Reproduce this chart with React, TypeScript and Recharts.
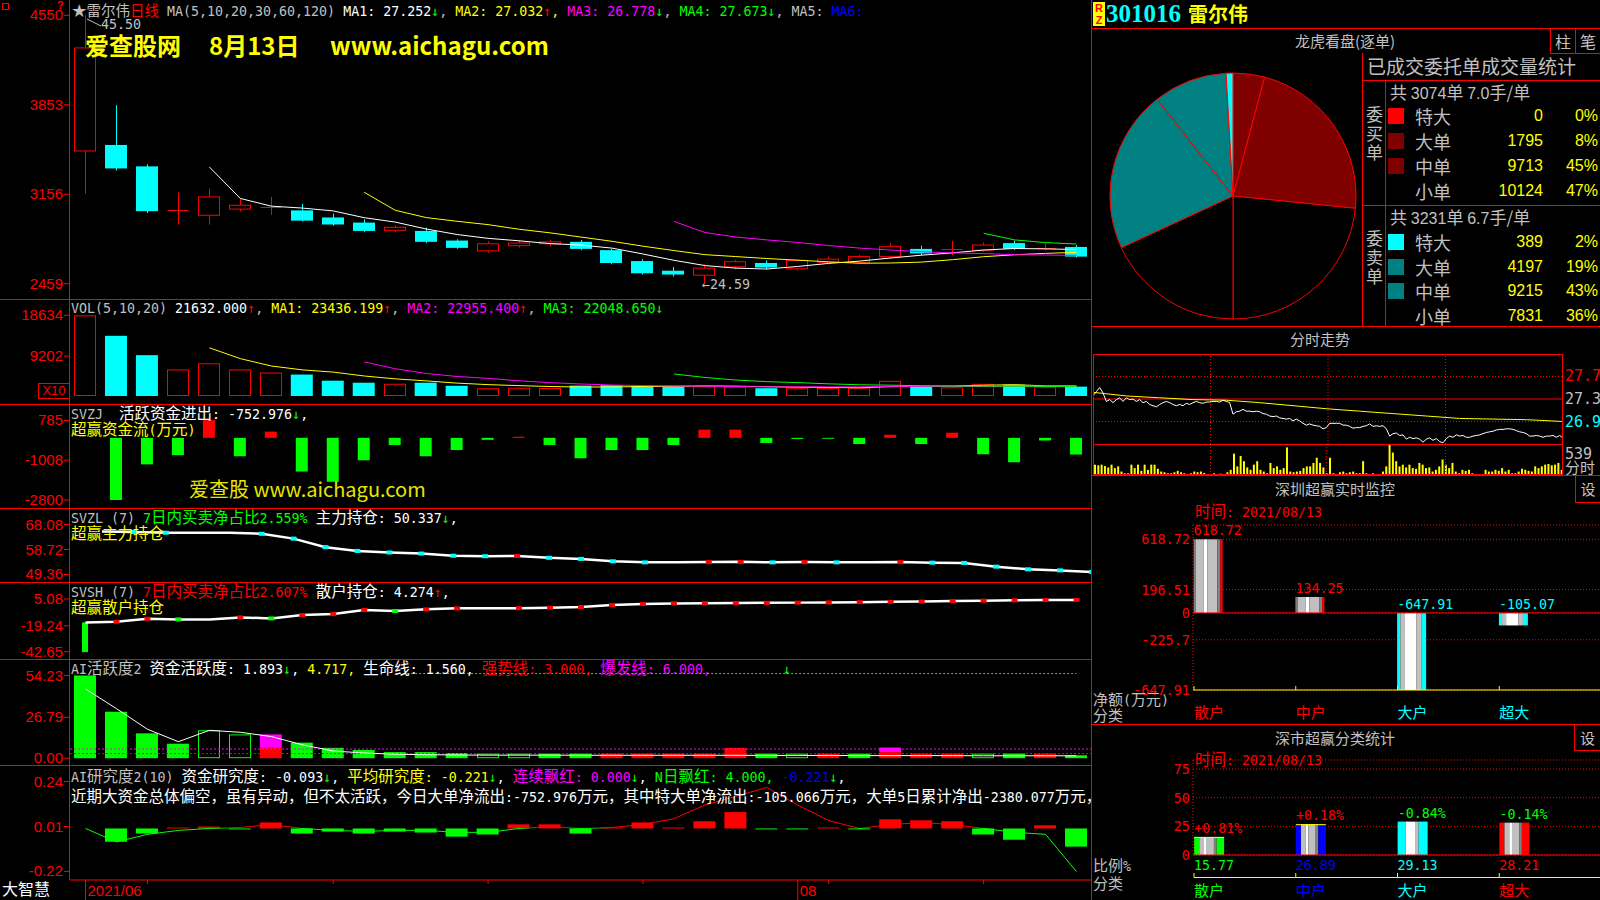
import React from 'react';
import { ComposedChart, BarChart, LineChart, PieChart, Pie, Cell, Bar, Line, XAxis, YAxis, ReferenceLine, CartesianGrid, LabelList } from 'recharts';

const _ = null;
const MONO = '"DejaVu Sans Mono", "Liberation Mono", monospace';
const CJK = '"Noto Sans CJK SC", "Noto Sans", sans-serif';
const NUM = '"Liberation Sans", Arial, sans-serif';
const RED = '#ff0000', CYAN = '#00ffff', GREEN = '#00ff00', YEL = '#ffff00', MAG = '#ff00ff', GRAY = '#c0c0c0', WHITE = '#ffffff', BLUE = '#0000ff';

// ---------------- daily data ----------------
const tradeDates = ['2021-06-30','2021-07-01','2021-07-02','2021-07-05','2021-07-06','2021-07-07','2021-07-08','2021-07-09','2021-07-12','2021-07-13','2021-07-14','2021-07-15','2021-07-16','2021-07-19','2021-07-20','2021-07-21','2021-07-22','2021-07-23','2021-07-26','2021-07-27','2021-07-28','2021-07-29','2021-07-30','2021-08-02','2021-08-03','2021-08-04','2021-08-05','2021-08-06','2021-08-09','2021-08-10','2021-08-11','2021-08-12','2021-08-13'];
const opens = [34.93,35.40,33.73,30.30,29.92,30.40,30.45,30.30,29.75,29.35,28.75,28.70,27.95,27.15,27.55,27.70,27.85,27.20,26.35,25.60,25.25,25.90,26.20,25.75,26.25,26.25,26.70,27.30,27.30,27.20,27.75,27.30,27.45];
const highs = [45.50,38.50,33.90,31.70,32.00,31.20,31.35,30.80,30.05,29.60,29.15,28.95,28.05,27.90,27.95,28.00,28.00,27.30,26.50,25.90,26.10,26.45,26.40,26.50,26.70,26.85,27.77,27.55,27.93,27.80,27.95,27.75,27.60];
const lows = [31.60,33.40,30.10,29.20,29.20,30.20,29.95,29.44,29.10,28.60,28.60,27.75,27.30,27.00,27.40,27.50,27.20,26.10,25.30,25.15,24.59,25.70,25.70,25.60,26.10,26.10,26.55,26.80,26.82,27.05,27.20,27.15,26.63];
const closes = [42.96,33.57,30.24,30.30,31.35,30.70,30.55,29.50,29.20,28.70,28.98,27.85,27.38,27.70,27.75,27.85,27.30,26.20,25.40,25.30,25.80,26.30,25.85,26.40,26.50,26.70,27.50,26.95,27.32,27.60,27.30,27.35,26.70];
const ma5 = [_,_,_,_,33.68,31.23,30.63,30.48,30.26,29.73,29.39,28.85,28.42,28.12,27.93,27.71,27.60,27.36,26.90,26.41,26.00,25.80,25.73,25.93,26.17,26.35,26.59,26.81,26.99,27.21,27.33,27.30,27.25];
const ma10 = [_,_,_,_,_,_,_,_,_,31.71,30.31,29.74,29.45,29.19,28.83,28.55,28.22,27.89,27.51,27.17,26.85,26.70,26.55,26.42,26.29,26.18,26.20,26.27,26.46,26.69,26.84,26.95,27.03];
const ma20 = [_,_,_,_,_,_,_,_,_,_,_,_,_,_,_,_,_,_,_,29.44,28.58,28.22,28.00,27.80,27.56,27.36,27.21,27.08,26.99,26.93,26.85,26.82,26.79];
const ma30 = [_,_,_,_,_,_,_,_,_,_,_,_,_,_,_,_,_,_,_,_,_,_,_,_,_,_,_,_,_,28.52,28.00,27.79,27.68];
const vols = [18634,13900,9430,6130,7550,6130,5420,4950,3540,3070,2830,3070,2360,1800,1900,1850,2400,2500,2300,2200,2250,2142,1800,1800,1850,1900,3500,2187,2000,2800,2600,2155,2163];
const vma5 = [_,_,_,_,11129,8628,6932,6036,5518,4622,3962,3492,2974,2626,2392,2196,2062,2090,2190,2250,2330,2278,2138,2038,1968,1898,2170,2247,2287,2477,2617,2348,2344];
const vma10 = [_,_,_,_,_,_,_,_,_,7875,6295,5212,4505,4072,3507,3079,2777,2532,2408,2321,2263,2170,2114,2114,2109,2114,2224,2193,2163,2223,2258,2259,2296];
const vma20 = [_,_,_,_,_,_,_,_,_,_,_,_,_,_,_,_,_,_,_,5098,4279,3691,3310,3093,2808,2597,2501,2362,2285,2272,2260,2215,2205];
const svzj = [_,-2800,-1196,-780,800,-830,280,-1520,-1980,-1010,-320,-830,-550,-90,50,-320,-920,-550,-550,-320,370,370,-230,-50,-40,-280,140,-280,230,-740,-1100,-120,-752.976];
const svzl = [_,65.5,65.3,65.0,65.0,65.0,64.6,62.8,59.6,58.2,57.6,57.2,56.4,56.2,56.3,55.6,55.2,54.3,53.9,53.9,54.0,54.1,53.9,54.0,53.9,53.9,54.0,53.8,53.7,52.3,51.3,50.9,50.337];
const svsh = [-16.1,-15.5,-12.8,-13.4,-13.4,-11.6,-12.5,-9.5,-8.6,-4.9,-5.8,-4.3,-3.4,-3.4,-3.2,-2.8,-2.2,-0.4,0.5,1.1,1.3,1.5,1.6,1.8,2.0,2.2,2.5,2.8,3.2,3.6,3.9,4.1,4.274];
const svshBarLow = [-43.0,_,_,_,_,_,_,_,_,_,_,_,_,_,_,_,_,_,_,_,_,_,_,_,_,_,_,_,_,_,_,_,_];
const svshBarHigh = [-16.1,_,_,_,_,_,_,_,_,_,_,_,_,_,_,_,_,_,_,_,_,_,_,_,_,_,_,_,_,_,_,_,_];
const actGreen = [54.23,30.5,16.3,9.5,_,_,_,10.2,6.8,5.4,4.0,4.0,3.4,_,_,3.0,3.0,_,_,_,_,_,3.0,_,_,3.0,_,_,_,_,3.0,_,1.893];
const actHollow = [_,_,_,_,18.3,15.6,_,_,_,_,_,_,_,3.0,3.0,_,_,_,_,_,_,_,_,3.0,_,_,_,_,_,3.0,_,_,_];
const actRed = [_,_,_,_,_,_,6.8,_,_,_,_,_,_,_,_,_,_,3.0,3.0,3.0,3.0,6.8,_,_,3.0,_,4.0,3.0,3.0,_,_,3.0,_];
const actMag = [_,_,_,_,_,_,8.8,_,_,_,_,_,_,_,_,_,_,_,_,_,_,_,_,_,_,_,3.0,_,_,_,_,_,_];
const actLife = [45.4,32.5,19.0,10.8,18.3,17.0,14.2,8.8,4.7,3.4,2.6,2.3,2.1,2.0,2.0,2.0,1.9,1.9,1.9,1.9,1.9,1.9,1.8,1.8,1.8,1.7,1.7,1.7,1.7,1.6,1.6,1.6,1.56];
const resBar = [_,-0.068,-0.026,0.005,0.010,-0.005,0.031,-0.026,-0.016,-0.026,-0.016,-0.021,-0.042,-0.031,0.021,0.021,-0.026,0.005,0.031,0.005,0.037,0.084,-0.005,-0.005,0.005,-0.005,0.047,0.042,0.037,-0.031,-0.058,0.016,-0.093];
const resAvg = [0.0,-0.069,-0.03,-0.01,0.0,0.005,0.02,0.0,-0.01,-0.015,-0.01,-0.01,-0.02,-0.02,0.0,0.01,0.0,0.005,0.02,0.05,0.12,0.165,0.21,0.12,0.04,0.0,0.02,0.03,0.02,0.0,-0.02,-0.03,-0.221];
const axisTickDates = ['2021-06-30','2021-07-02','2021-07-12','2021-07-19','2021-07-26','2021-08-02','2021-08-03','2021-08-10'];
const axisMajor: Record<string, string> = { '2021-06-30': '2021/06', '2021-08-02': '08' };

// ---------------- right side data ----------------
const orderLabels = ['特大', '大单', '中单', '小单'];
const buyCounts = [0, 1795, 9713, 10124];
const buyPct = ['0%', '8%', '45%', '47%'];
const sellCounts = [389, 4197, 9215, 7831];
const sellPct = ['2%', '19%', '43%', '36%'];
const minutePrice = [27.40,27.47,27.54,27.45,27.31,27.34,27.29,27.34,27.37,27.31,
27.37,27.34,27.35,27.31,27.34,27.29,27.31,27.26,27.24,27.22,
27.26,27.29,27.31,27.29,27.26,27.24,27.26,27.24,27.28,27.26,
27.29,27.31,27.29,27.28,27.30,27.30,27.31,27.31,27.30,27.33,
27.31,27.29,27.10,27.14,27.15,27.18,27.15,27.15,27.14,27.15,
27.14,27.11,27.10,27.07,27.06,27.07,27.04,27.03,27.02,27.03,
26.99,27.02,26.99,26.95,26.92,26.94,26.92,26.91,26.90,26.86,
26.88,26.95,26.95,26.95,26.95,26.92,26.92,26.90,26.87,26.88,
26.88,26.90,26.91,26.94,26.90,26.91,26.90,26.91,26.86,26.74,
26.78,26.79,26.75,26.76,26.69,26.72,26.70,26.71,26.69,26.64,
26.69,26.71,26.67,26.70,26.65,26.63,26.70,26.74,26.72,26.76,
26.74,26.75,26.72,26.72,26.74,26.75,26.76,26.78,26.80,26.81,
26.82,26.84,26.85,26.85,26.86,26.86,26.85,26.83,26.81,26.80,
26.78,26.74,26.74,26.75,26.74,26.72,26.74,26.74,26.75,26.72,
26.75,26.71];
const minuteVol = [180,168,180,156,132,180,120,150,60,30,
30,180,120,180,72,180,90,180,180,108,
60,48,30,30,48,72,48,30,18,30,
60,48,60,36,18,18,30,18,24,18,
48,90,372,150,330,240,132,90,180,240,
90,60,30,210,120,150,90,120,480,60,
48,60,72,120,150,150,210,300,210,132,
30,300,30,18,48,60,30,48,60,30,
30,240,30,18,30,18,18,60,150,539,
390,240,150,180,132,180,120,108,210,180,
120,132,60,90,150,270,180,120,210,60,
30,90,72,90,30,18,18,12,90,60,
60,90,72,120,60,90,30,30,60,108,
90,72,60,150,120,150,180,192,168,180,
210,90];
const avgT = [0, 10, 20, 30, 40, 50, 60, 70, 80, 90, 100, 110, 120, 130, 141];
const avgV = [27.46, 27.40, 27.37, 27.34, 27.33, 27.29, 27.24, 27.19, 27.15, 27.11, 27.07, 27.03, 27.02, 27.01, 26.98];
const monitorCats = ['散户', '中户', '大户', '超大'];
const monitorNet = [618.72, 134.25, -647.91, -105.07];
const shareRatio = [15.77, 26.89, 29.13, 28.21];
const shareChange = [0.81, 0.18, -0.84, -0.14];

// tables the library needs
const rows = tradeDates.map((d, i) => ({
  d, open: opens[i], high: highs[i], low: lows[i], close: closes[i],
  ma5: ma5[i], ma10: ma10[i], ma20: ma20[i], ma30: ma30[i],
  vol: vols[i], vma5: vma5[i], vma10: vma10[i], vma20: vma20[i],
  zj: svzj[i], zl: svzl[i], sh: svsh[i], shLo: svshBarLow[i], shHi: svshBarHigh[i],
  ag: actGreen[i], ah: actHollow[i], ar: actRed[i], am: actMag[i], life: actLife[i],
  rb: resBar[i], ra: resAvg[i],
}));
const minuteRows = minutePrice.map((p, t) => ({ t, p }));
const avgRows = avgT.map((t, i) => ({ t, v: avgV[i] }));
const volRows = minuteVol.map((v, t) => ({ t, v }));
const pieRows = [
  ...orderLabels.map((n, i) => ({ name: '买' + n, value: buyCounts[i] })),
  ...orderLabels.map((n, i) => ({ name: '卖' + n, value: sellCounts[i] })).reverse(),
];
const PIE_COLORS = ['#ff0000', '#800000', '#800000', '#000000', '#000000', '#008080', '#008080', '#00ffff'];
const BUY_SW = ['#ff0000', '#800000', '#800000', null];
const SELL_SW = ['#00ffff', '#008080', '#008080', null];
const monitorRows = monitorCats.map((name, i) => ({ name, v: monitorNet[i] }));
const shareRows = monitorCats.map((name, i) => ({ name, v: shareRatio[i], ch: shareChange[i] }));
const SHARE_COLORS = [GREEN, BLUE, CYAN, RED];

// ---------------- helpers ----------------
const isHalf = (s: string) => /^[\x00-\x7f↑↓←]/.test(s);
function Mx({ t, c, a = 13.3, k = 15.5, w }: any) {
  const parts = t.match(/[\x00-\x7f↑↓←]+|[^\x00-\x7f↑↓←]+/g) || [];
  return (
    <>
      {parts.map((p: string, i: number) => (
        <span key={i} style={{ color: c, fontFamily: isHalf(p) ? MONO : CJK, fontSize: isHalf(p) ? a : k, fontWeight: w }}>{p}</span>
      ))}
    </>
  );
}
function Row({ x, y, children, h = 16, style }: any) {
  return <div style={{ position: 'absolute', left: x, top: y, height: h, lineHeight: h + 'px', whiteSpace: 'pre', ...style }}>{children}</div>;
}
function HLine({ x1, x2, y, c = RED, dash }: any) {
  return <div style={{ position: 'absolute', left: x1, top: y, width: x2 - x1, height: 0, borderTop: `1px ${dash ? 'dotted' : 'solid'} ${c}` }} />;
}
function VLine({ x, y1, y2, c = RED }: any) {
  return <div style={{ position: 'absolute', left: x, top: y1, width: 0, height: y2 - y1, borderLeft: `1px solid ${c}` }} />;
}

function AxisTick(props: any) {
  const { y, payload, fmt } = props;
  return (
    <g>
      <text x={63} y={y} dy={5} textAnchor="end" fill={RED} fontSize={15} fontFamily={NUM}>{fmt(payload.value)}</text>
      <line x1={64} x2={69} y1={y} y2={y} stroke={RED} />
    </g>
  );
}

function Candle(p: any) {
  const { x, y, width, height, payload } = p;
  if (!payload || payload.high == null) return <g />;
  const { open, close, high, low } = payload;
  const top = Math.min(y, y + height);
  const h = Math.abs(height);
  const py = (v: number) => top + ((high - v) / (high - low)) * h;
  const up = close >= open;
  const col = up ? RED : CYAN;
  const cx = Math.round(x + width / 2) + 0.5;
  const bt = py(Math.max(open, close));
  const bb = py(Math.min(open, close));
  const bx = Math.round(x) + 0.5;
  const bw = Math.round(width) - 1;
  if (bb - bt < 1.5) {
    return (
      <g>
        <line x1={cx} x2={cx} y1={top} y2={top + h} stroke={col} />
        <line x1={bx} x2={bx + bw} y1={Math.round(bt) + 0.5} y2={Math.round(bt) + 0.5} stroke={col} />
      </g>
    );
  }
  if (up) {
    return (
      <g>
        <line x1={cx} x2={cx} y1={top} y2={bt} stroke={col} />
        <line x1={cx} x2={cx} y1={bb} y2={top + h} stroke={col} />
        <rect x={bx} y={bt} width={bw} height={bb - bt} fill="#000" stroke={col} />
      </g>
    );
  }
  return (
    <g>
      <line x1={cx} x2={cx} y1={top} y2={top + h} stroke={col} />
      <rect x={bx - 0.5} y={bt} width={bw + 1} height={bb - bt} fill={col} />
    </g>
  );
}

function VolBar(p: any) {
  const { x, y, width, height, payload } = p;
  const top = Math.min(y, y + height);
  const h = Math.abs(height);
  const up = payload.close >= payload.open;
  if (up) return <rect x={Math.round(x) + 0.5} y={top + 0.5} width={Math.round(width) - 1} height={Math.max(h - 1, 0)} fill="#000" stroke={RED} />;
  return <rect x={x} y={top} width={width} height={h} fill={CYAN} />;
}

function HollowBar(p: any) {
  const { x, y, width, height } = p;
  if (!height) return <g />;
  const top = Math.min(y, y + height);
  const h = Math.abs(height);
  return <rect x={Math.round(x) + 0.5} y={top + 0.5} width={Math.round(width) - 1} height={Math.max(h - 1, 0)} fill="#000" stroke={GREEN} />;
}

function markDot(arr: number[], upC: string, downC: string) {
  return (p: any) => {
    const { cx, cy, index } = p;
    const prev = index > 0 ? arr[index - 1] : null;
    const cur = arr[index];
    if (cx == null || cy == null || cur == null || prev == null || cur === prev) return <g key={'m' + index} />;
    return <rect key={'m' + index} x={cx - 3} y={cy - 2} width={6} height={4} fill={cur > prev ? upC : downC} />;
  };
}

function LeftPanel({ top, height, domain, ticks, fmt, bottom = 2, children, xAxis }: any) {
  return (
    <div style={{ position: 'absolute', left: 0, top, width: 1092, height }}>
      <ComposedChart width={1092} height={height} data={rows} margin={{ top: 2, right: 0, bottom, left: 0 }} barCategoryGap={0} barGap={0}>
        {xAxis || <XAxis dataKey="d" hide />}
        <YAxis type="number" width={70} domain={domain} ticks={ticks} interval={0} allowDataOverflow axisLine={false} tickLine={false}
          tick={(p: any) => <AxisTick {...p} fmt={fmt} />} />
        {children}
      </ComposedChart>
    </div>
  );
}

function DateTick(p: any) {
  const { x, payload } = p;
  const label = axisMajor[payload.value];
  if (label) {
    return (
      <g>
        <line x1={x} x2={x} y1={115} y2={135} stroke={RED} />
        <text x={x + 2} y={131} fill={RED} fontSize={15} fontFamily={NUM}>{label}</text>
      </g>
    );
  }
  return <line x1={x} x2={x} y1={115} y2={119} stroke={RED} />;
}

// right-side bar shapes
const MON_BAND = 407 / 4;
function StripeBar({ x, w, top, h, edge, pattern }: any) {
  return (
    <g>
      {pattern.map(([a, b, c]: any, i: number) => (
        <rect key={i} x={x + a * w} y={top} width={(b - a) * w} height={h} fill={c === 'E' ? edge : c} />
      ))}
    </g>
  );
}
const POS_PATTERN = [[0, 0.08, '#808080'], [0.08, 0.35, '#c0c0c0'], [0.35, 0.48, '#ffffff'], [0.48, 0.82, '#c0c0c0'], [0.82, 0.92, '#808080'], [0.92, 1, 'E']];
const NEG_PATTERN = [[0, 0.11, 'E'], [0.11, 0.25, '#c0c0c0'], [0.25, 0.67, '#ffffff'], [0.67, 0.83, '#c0c0c0'], [0.83, 1, 'E']];
const SHARE_PATTERN = [[0, 0.17, 'E'], [0.17, 0.33, '#c0c0c0'], [0.33, 0.42, '#ffffff'], [0.42, 0.66, '#c0c0c0'], [0.66, 0.75, '#808080'], [0.75, 1, 'E']];
const SHARE_PATTERN_C = [[0, 0.27, 'E'], [0.27, 0.58, '#ffffff'], [0.58, 0.7, '#c0c0c0'], [0.7, 1, 'E']];

function MonitorBar(p: any) {
  const { x, y, width, height, payload } = p;
  const top = Math.min(y, y + height);
  const h = Math.abs(height);
  const bx = x - (MON_BAND - width) / 2 + 1;
  const pos = payload.v >= 0;
  return <StripeBar x={bx} w={width} top={top} h={h} edge={pos ? RED : CYAN} pattern={pos ? POS_PATTERN : NEG_PATTERN} />;
}
function MonitorLabel(p: any) {
  const { x, y, width, height, value } = p;
  const top = Math.min(y, y + height);
  const bx = x - (MON_BAND - width) / 2 + 1;
  return <text x={bx} y={top - 4} fill={value >= 0 ? RED : CYAN} fontSize={13.3} fontFamily={MONO}>{value.toFixed(2)}</text>;
}
function MonitorXTick(p: any) {
  const { x, payload, index } = p;
  const bx = x - MON_BAND / 2 + 1;
  const col = monitorNet[index] >= 0 ? RED : CYAN;
  return (
    <g>
      <line x1={bx} x2={bx} y1={206} y2={210} stroke={YEL} />
      <text x={bx} y={238} fill={col} fontSize={15} fontFamily={CJK}>{payload.value}</text>
    </g>
  );
}
function RightYTick(p: any) {
  const { y, payload } = p;
  const v = payload.value;
  const s = v === 0 ? '0' : String(v);
  return <text x={98} y={y} dy={5} textAnchor="end" fill={RED} fontSize={13.5} fontFamily={MONO}>{s}</text>;
}
function ShareBar(p: any) {
  const { x, y, width, height, index } = p;
  const top = Math.min(y, y + height);
  const h = Math.abs(height);
  const bx = x - (MON_BAND - width) / 2 + 1;
  const col = SHARE_COLORS[index];
  return (
    <g>
      <StripeBar x={bx} w={width} top={top} h={h} edge={col} pattern={col === CYAN ? SHARE_PATTERN_C : SHARE_PATTERN} />
      {shareChange[index] > 0 ? <line x1={bx} x2={bx + width} y1={top + 0.5} y2={top + 0.5} stroke={YEL} /> : null}
    </g>
  );
}
function ShareLabel(p: any) {
  const { x, y, width, height, index } = p;
  const top = Math.min(y, y + height);
  const bx = x - (MON_BAND - width) / 2 + 1;
  const ch = shareChange[index];
  return <text x={bx} y={top - 4} fill={ch >= 0 ? RED : GREEN} fontSize={13.3} fontFamily={MONO}>{(ch >= 0 ? '+' : '') + ch.toFixed(2) + '%'}</text>;
}
function ShareXTick(p: any) {
  const { x, payload, index } = p;
  const bx = x - MON_BAND / 2 + 1;
  const col = SHARE_COLORS[index];
  return (
    <g>
      <text x={bx} y={146} fill={col} fontSize={13.3} fontFamily={MONO}>{shareRatio[index].toFixed(2)}</text>
      <line x1={bx} x2={bx + MON_BAND} y1={153.5} y2={153.5} stroke={YEL} />
      <line x1={bx} x2={bx} y1={149} y2={153.5} stroke={YEL} />
      <text x={bx} y={172} fill={col} fontSize={15} fontFamily={CJK}>{payload.value}</text>
    </g>
  );
}

const R0 = 1092;

export default function App() {
  const dims = { position: 'fixed' as const, left: 0, top: 0, width: 1600, height: 900, background: '#000', overflow: 'hidden' };
  return (
    <div style={dims}>
      <svg width={0} height={0} style={{ position: 'absolute' }}>
        <defs>
          <linearGradient id="resGrad" gradientUnits="userSpaceOnUse" x1={0} y1={0} x2={0} y2={135}>
            <stop offset={0.47} stopColor={RED} />
            <stop offset={0.47} stopColor={GREEN} />
          </linearGradient>
        </defs>
      </svg>

      {/* ---------- left charts ---------- */}
      <LeftPanel top={0} height={299} domain={[23.55, 46.54]} ticks={[24.59, 31.56, 38.53, 45.5]} fmt={(v: number) => String(Math.round(v * 100))}>
        <Bar dataKey={(r: any) => [r.low, r.high]} barSize={22} shape={(p: any) => <Candle {...p} />} isAnimationActive={false} />
        <Line dataKey="ma5" stroke={WHITE} dot={false} activeDot={false} isAnimationActive={false} />
        <Line dataKey="ma10" stroke={YEL} dot={false} activeDot={false} isAnimationActive={false} />
        <Line dataKey="ma20" stroke={MAG} dot={false} activeDot={false} isAnimationActive={false} />
        <Line dataKey="ma30" stroke={GREEN} dot={false} activeDot={false} isAnimationActive={false} />
      </LeftPanel>

      <LeftPanel top={299} height={105} bottom={8} domain={[0, 21940]} ticks={[9202, 18634]} fmt={(v: number) => String(v)}>
        <Bar dataKey="vol" barSize={22} shape={(p: any) => <VolBar {...p} />} isAnimationActive={false} />
        <Line dataKey="vma5" stroke={YEL} dot={false} activeDot={false} isAnimationActive={false} />
        <Line dataKey="vma10" stroke={MAG} dot={false} activeDot={false} isAnimationActive={false} />
        <Line dataKey="vma20" stroke={GREEN} dot={false} activeDot={false} isAnimationActive={false} />
      </LeftPanel>

      <LeftPanel top={404} height={104} domain={[-3070, 1434]} ticks={[-2800, -1008, 785]} fmt={(v: number) => String(v)}>
        <Bar dataKey="zj" barSize={12} isAnimationActive={false}>
          {svzj.map((v, i) => <Cell key={i} fill={(v ?? 0) >= 0 ? RED : GREEN} />)}
        </Bar>
      </LeftPanel>

      <LeftPanel top={508} height={74} domain={[47.3, 73.51]} ticks={[49.36, 58.72, 68.08]} fmt={(v: number) => v.toFixed(2)}>
        <Line dataKey="zl" stroke={WHITE} strokeWidth={2.5} dot={markDot(svzl as any, RED, CYAN)} activeDot={false} isAnimationActive={false} />
      </LeftPanel>

      <LeftPanel top={582} height={77} domain={[-47.45, 18.67]} ticks={[-42.65, -19.24, 5.08]} fmt={(v: number) => v.toFixed(2)}>
        <Bar dataKey={(r: any) => (r.shLo == null ? null : [r.shLo, r.shHi])} barSize={6} fill={GREEN} isAnimationActive={false} />
        <Line dataKey="sh" stroke={WHITE} strokeWidth={2.5} dot={markDot(svsh, RED, GREEN)} activeDot={false} isAnimationActive={false} />
      </LeftPanel>

      <LeftPanel top={659} height={106} domain={[-3.15, 63.74]} ticks={[0, 26.79, 54.23]} fmt={(v: number) => v.toFixed(2)}>
        <ReferenceLine y={3} stroke={RED} strokeDasharray="2 2" />
        <ReferenceLine y={6} stroke={MAG} strokeDasharray="2 2" />
        <ReferenceLine segment={[{ x: '2021-07-14', y: 55.5 }, { x: '2021-08-13', y: 55.5 }]} stroke={GREEN} strokeDasharray="2 2" />
        <Bar dataKey="ag" stackId="a" barSize={22} fill={GREEN} isAnimationActive={false} />
        <Bar dataKey="ah" stackId="a" barSize={22} shape={(p: any) => <HollowBar {...p} />} isAnimationActive={false} />
        <Bar dataKey="ar" stackId="a" barSize={22} fill={RED} isAnimationActive={false} />
        <Bar dataKey="am" stackId="a" barSize={22} fill={MAG} isAnimationActive={false} />
        <Line dataKey="life" stroke={WHITE} dot={false} activeDot={false} isAnimationActive={false} />
      </LeftPanel>

      <LeftPanel top={765} height={135} bottom={0} domain={[-0.264, 0.3148]} ticks={[-0.22, 0.01, 0.24]} fmt={(v: number) => v.toFixed(2)}
        xAxis={<XAxis dataKey="d" ticks={axisTickDates} interval={0} height={20} axisLine={{ stroke: RED }} tickLine={false} tick={(p: any) => <DateTick {...p} />} />}>
        <Bar dataKey="rb" barSize={22} isAnimationActive={false}>
          {resBar.map((v, i) => <Cell key={i} fill={(v ?? 0) >= 0 ? RED : GREEN} />)}
        </Bar>
        <Line dataKey="ra" stroke="url(#resGrad)" dot={false} activeDot={false} isAnimationActive={false} />
      </LeftPanel>

      {/* ---------- left frame lines ---------- */}
      <VLine x={69} y1={0} y2={880} />
      <VLine x={1091} y1={0} y2={900} />
      {[299, 404, 508, 582, 659, 765].map((y) => <HLine key={y} x1={0} x2={1092} y={y} />)}

      {/* ---------- left texts ---------- */}
      <div style={{ position: 'absolute', left: 2, top: 3, width: 5, height: 5, border: `1px solid ${RED}` }} />
      <Row x={57} y={0} h={10} style={{ color: RED, fontFamily: NUM, fontWeight: 700, fontSize: 11 }}>?</Row>
      <Row x={72} y={3} h={14}>
        <Mx t="★雷尔伟" c={GRAY} k={14.5} /><Mx t="日线" c={RED} k={14.5} /><Mx t=" MA(5,10,20,30,60,120) " c={GRAY} />
        <Mx t="MA1: 27.252" c={WHITE} /><Mx t="↓" c={GREEN} /><Mx t=", " c={GRAY} />
        <Mx t="MA2: 27.032" c={YEL} /><Mx t="↑" c={RED} /><Mx t=", " c={YEL} />
        <Mx t="MA3: 26.778" c={MAG} /><Mx t="↓" c={GREEN} /><Mx t=", " c={GRAY} />
        <Mx t="MA4: 27.673" c={GREEN} /><Mx t="↓" c={GREEN} /><Mx t=", " c={GRAY} />
        <Mx t="MA5: " c={GRAY} /><Mx t="MA6:" c={BLUE} />
      </Row>
      <svg style={{ position: 'absolute', left: 0, top: 0 }} width={110} height={40}>
        <line x1={87} y1={19} x2={101} y2={26} stroke={GRAY} />
      </svg>
      <Row x={101} y={17} h={13}><Mx t="45.50" c={GRAY} /></Row>
      <Row x={702} y={276}><Mx t="←24.59" c={GRAY} /></Row>
      <Row x={85} y={31} h={28} style={{ color: YEL, fontFamily: CJK, fontWeight: 700, fontSize: 24 }}>爱查股网</Row>
      <Row x={209} y={31} h={28} style={{ color: YEL, fontFamily: CJK, fontWeight: 700, fontSize: 24 }}>8月13日</Row>
      <Row x={330} y={31} h={28} style={{ color: YEL, fontFamily: CJK, fontWeight: 700, fontSize: 24 }}>www.aichagu.com</Row>

      <Row x={71} y={300}>
        <Mx t="VOL(5,10,20) " c={GRAY} /><Mx t="21632.000" c={WHITE} /><Mx t="↑" c={RED} /><Mx t=", " c={GRAY} />
        <Mx t="MA1: 23436.199" c={YEL} /><Mx t="↑" c={RED} /><Mx t=", " c={GRAY} />
        <Mx t="MA2: 22955.400" c={MAG} /><Mx t="↑" c={RED} /><Mx t=", " c={GRAY} />
        <Mx t="MA3: 22048.650" c={GREEN} /><Mx t="↓" c={GREEN} />
      </Row>
      <div style={{ position: 'absolute', left: 38, top: 383, width: 30, height: 14, border: `1px solid ${RED}`, color: RED, fontFamily: NUM, fontSize: 13, lineHeight: '14px', textAlign: 'center' }}>X10</div>

      <Row x={71} y={404}><Mx t="SVZJ  " c={GRAY} /><Mx t="活跃资金进出: -752.976" c={WHITE} /><Mx t="↓" c={GREEN} /><Mx t="," c={WHITE} /></Row>
      <Row x={71} y={420}><Mx t="超赢资金流(万元)" c={YEL} /></Row>
      <Row x={189} y={476} h={26} style={{ color: '#e6e600', fontFamily: CJK, fontSize: 20 }}>爱查股 www.aichagu.com</Row>

      <Row x={71} y={508}><Mx t="SVZL (7) " c={GRAY} /><Mx t="7日内买卖净占比2.559%" c={GREEN} /><Mx t=" 主力持仓: 50.337" c={WHITE} /><Mx t="↓" c={GREEN} /><Mx t="," c={WHITE} /></Row>
      <Row x={71} y={524}><Mx t="超赢主力持仓" c={YEL} /></Row>

      <Row x={71} y={582}><Mx t="SVSH (7) " c={GRAY} /><Mx t="7日内买卖净占比2.607%" c={RED} /><Mx t=" 散户持仓: 4.274" c={WHITE} /><Mx t="↑" c={RED} /><Mx t="," c={WHITE} /></Row>
      <Row x={71} y={598}><Mx t="超赢散户持仓" c={YEL} /></Row>

      <Row x={71} y={659}>
        <Mx t="AI活跃度2 " c={GRAY} /><Mx t="资金活跃度: 1.893" c={WHITE} /><Mx t="↓" c={GREEN} /><Mx t=", " c={WHITE} />
        <Mx t="4.717, " c={YEL} /><Mx t="生命线: 1.560, " c={WHITE} /><Mx t="强势线: 3.000, " c={RED} /><Mx t="爆发线: 6.000," c={MAG} />
      </Row>
      <Row x={783} y={661}><Mx t="↓" c={GREEN} /></Row>

      <Row x={71} y={767}>
        <Mx t="AI研究度2(10) " c={GRAY} /><Mx t="资金研究度: -0.093" c={WHITE} /><Mx t="↓" c={GREEN} /><Mx t=", " c={WHITE} />
        <Mx t="平均研究度: -0.221" c={YEL} /><Mx t="↓" c={GREEN} /><Mx t=", " c={WHITE} />
        <Mx t="连续飘红: 0.000" c={MAG} /><Mx t="↓" c={GREEN} /><Mx t=", " c={WHITE} />
        <Mx t="N日飘红: 4.000, " c={GREEN} /><Mx t="-0.221" c={BLUE} /><Mx t="↓" c={GREEN} /><Mx t="," c={WHITE} />
      </Row>
      <div style={{ position: 'absolute', left: 71, top: 785, width: 1020, height: 20, overflow: 'hidden' }}>
        <Row x={0} y={2}><Mx t="近期大资金总体偏空，虽有异动，但不太活跃，今日大单净流出:-752.976万元，其中特大单净流出:-105.066万元，大单5日累计净出-2380.077万元，主力" c={WHITE} /></Row>
      </div>

      <Row x={2} y={879} h={18} style={{ color: WHITE, fontFamily: CJK, fontSize: 16 }}>大智慧</Row>

      {/* ---------- right side ---------- */}
      <div style={{ position: 'absolute', left: R0, top: 0, width: 508, height: 900, overflow: 'hidden' }}>
        <div style={{ position: 'absolute', left: 1, top: 2, width: 12, height: 24, background: YEL, color: RED, fontFamily: NUM, fontSize: 11, lineHeight: '12px', textAlign: 'center', fontWeight: 700 }}>R<br />Z</div>
        <Row x={14} y={1} h={26} style={{ color: CYAN, fontFamily: '"Liberation Serif", serif', fontWeight: 700, fontSize: 25 }}>301016</Row>
        <Row x={96} y={1} h={26} style={{ color: YEL, fontFamily: CJK, fontWeight: 700, fontSize: 20 }}>雷尔伟</Row>
        <HLine x1={0} x2={508} y={28} />
        <Row x={1295 - R0} y={33} style={{ color: GRAY, fontFamily: CJK, fontSize: 15 }}>龙虎看盘(逐单)</Row>
        <div style={{ position: 'absolute', left: 1550 - R0, top: 28, width: 24, height: 24, border: `1px solid ${RED}`, color: GRAY, fontFamily: CJK, fontSize: 16, lineHeight: '24px', textAlign: 'center' }}>柱</div>
        <div style={{ position: 'absolute', left: 1575 - R0, top: 28, width: 24, height: 24, border: `1px solid ${RED}`, color: GRAY, fontFamily: CJK, fontSize: 16, lineHeight: '24px', textAlign: 'center' }}>笔</div>

        {/* pie */}
        <div style={{ position: 'absolute', left: 1228 - 130 - R0, top: 191 - 130, width: 260, height: 260 }}>
          <PieChart width={260} height={260}>
            <Pie data={pieRows} dataKey="value" cx={130} cy={130} outerRadius={123} startAngle={90} endAngle={-270} stroke={RED} strokeWidth={1} isAnimationActive={false}>
              {pieRows.map((r, i) => <Cell key={i} fill={PIE_COLORS[i]} />)}
            </Pie>
          </PieChart>
        </div>

        {/* legend table */}
        <VLine x={1362 - R0} y1={53} y2={326} />
        <HLine x1={1362 - R0} x2={508} y={80} />
        <VLine x={1385 - R0} y1={80} y2={326} />
        <HLine x1={1362 - R0} x2={508} y={205} />
        <HLine x1={0} x2={508} y={326} />
        <Row x={1367 - R0} y={54} h={24} style={{ color: GRAY, fontFamily: CJK, fontSize: 19 }}>已成交委托单成交量统计</Row>
        <div style={{ position: 'absolute', left: 1366 - R0, top: 104, width: 18, color: GRAY, fontFamily: CJK, fontSize: 17, lineHeight: '19px' }}>委<br />买<br />单</div>
        <div style={{ position: 'absolute', left: 1366 - R0, top: 228, width: 18, color: GRAY, fontFamily: CJK, fontSize: 17, lineHeight: '19px' }}>委<br />卖<br />单</div>
        <Row x={1390 - R0} y={82} h={20}><span style={{ color: GRAY, fontFamily: CJK, fontSize: 17 }}>共 </span><span style={{ color: GRAY, fontFamily: NUM, fontSize: 16 }}>3074</span><span style={{ color: GRAY, fontFamily: CJK, fontSize: 17 }}>单 </span><span style={{ color: GRAY, fontFamily: NUM, fontSize: 16 }}>7.0</span><span style={{ color: GRAY, fontFamily: CJK, fontSize: 17 }}>手/单</span></Row>
        <Row x={1390 - R0} y={207} h={20}><span style={{ color: GRAY, fontFamily: CJK, fontSize: 17 }}>共 </span><span style={{ color: GRAY, fontFamily: NUM, fontSize: 16 }}>3231</span><span style={{ color: GRAY, fontFamily: CJK, fontSize: 17 }}>单 </span><span style={{ color: GRAY, fontFamily: NUM, fontSize: 16 }}>6.7</span><span style={{ color: GRAY, fontFamily: CJK, fontSize: 17 }}>手/单</span></Row>
        {orderLabels.map((lab, i) => (
          <React.Fragment key={'b' + i}>
            {BUY_SW[i] ? <div style={{ position: 'absolute', left: 1388 - R0, top: 108 + i * 25, width: 16, height: 16, background: BUY_SW[i] as string }} /> : null}
            <Row x={1415 - R0} y={106 + i * 25} h={20} style={{ color: GRAY, fontFamily: CJK, fontSize: 18 }}>{lab}</Row>
            <Row x={1443 - R0} y={106 + i * 25} h={20} style={{ color: YEL, fontFamily: NUM, fontSize: 16, width: 100, textAlign: 'right' }}>{String(buyCounts[i])}</Row>
            <Row x={1548 - R0} y={106 + i * 25} h={20} style={{ color: YEL, fontFamily: NUM, fontSize: 16, width: 50, textAlign: 'right' }}>{buyPct[i]}</Row>
            {SELL_SW[i] ? <div style={{ position: 'absolute', left: 1388 - R0, top: 234 + i * 24.7, width: 16, height: 16, background: SELL_SW[i] as string }} /> : null}
            <Row x={1415 - R0} y={232 + i * 24.7} h={20} style={{ color: GRAY, fontFamily: CJK, fontSize: 18 }}>{lab}</Row>
            <Row x={1443 - R0} y={232 + i * 24.7} h={20} style={{ color: YEL, fontFamily: NUM, fontSize: 16, width: 100, textAlign: 'right' }}>{String(sellCounts[i])}</Row>
            <Row x={1548 - R0} y={232 + i * 24.7} h={20} style={{ color: YEL, fontFamily: NUM, fontSize: 16, width: 50, textAlign: 'right' }}>{sellPct[i]}</Row>
          </React.Fragment>
        ))}

        {/* intraday */}
        <Row x={1290 - R0} y={331} style={{ color: GRAY, fontFamily: CJK, fontSize: 15 }}>分时走势</Row>
        <div style={{ position: 'absolute', left: 1093 - R0, top: 354, width: 470, height: 90 }}>
          <LineChart width={470} height={90} margin={{ top: 0, right: 0, bottom: 0, left: 0 }}>
            <XAxis dataKey="t" type="number" domain={[0, 141]} hide allowDataOverflow />
            <YAxis type="number" domain={[26.61, 28.09]} hide allowDataOverflow />
            <ReferenceLine y={27.72} stroke={RED} strokeDasharray="1 2" />
            <ReferenceLine y={27.35} stroke={RED} />
            <ReferenceLine y={26.98} stroke={RED} strokeDasharray="1 2" />
            <ReferenceLine x={35.25} stroke={RED} strokeDasharray="1 2" />
            <ReferenceLine x={70.5} stroke={RED} strokeDasharray="1 2" />
            <ReferenceLine x={105.75} stroke={RED} strokeDasharray="1 2" />
            <Line data={avgRows} dataKey="v" stroke={YEL} dot={false} activeDot={false} isAnimationActive={false} />
            <Line data={minuteRows} dataKey="p" stroke={WHITE} dot={false} activeDot={false} isAnimationActive={false} />
          </LineChart>
        </div>
        <div style={{ position: 'absolute', left: 1093 - R0, top: 444, width: 470, height: 31 }}>
          <BarChart width={470} height={31} data={volRows} margin={{ top: 0, right: 0, bottom: 0, left: 0 }} barCategoryGap={0}>
            <XAxis dataKey="t" hide />
            <YAxis domain={[0, 539]} hide allowDataOverflow />
            <ReferenceLine x={35} stroke={RED} strokeDasharray="1 2" />
            <ReferenceLine x={70} stroke={RED} strokeDasharray="1 2" />
            <ReferenceLine x={106} stroke={RED} strokeDasharray="1 2" />
            <Bar dataKey="v" fill={YEL} barSize={2} isAnimationActive={false} />
          </BarChart>
        </div>
        <div style={{ position: 'absolute', left: 1093 - R0, top: 354, width: 470, height: 121, border: `1px solid ${RED}`, boxSizing: 'border-box' }} />
        <HLine x1={1093 - R0} x2={1563 - R0} y={444} />
        <HLine x1={0} x2={508} y={475} />
        <Row x={1565 - R0} y={368} style={{ color: RED, fontFamily: MONO, fontSize: 15 }}>27.72</Row>
        <Row x={1565 - R0} y={391} style={{ color: GRAY, fontFamily: MONO, fontSize: 15 }}>27.35</Row>
        <Row x={1565 - R0} y={414} style={{ color: CYAN, fontFamily: MONO, fontSize: 15 }}>26.98</Row>
        <Row x={1565 - R0} y={446} style={{ color: GRAY, fontFamily: MONO, fontSize: 15 }}>539</Row>
        <Row x={1565 - R0} y={459} style={{ color: GRAY, fontFamily: CJK, fontSize: 15 }}>分时</Row>

        {/* 深圳超赢实时监控 */}
        <Row x={1275 - R0} y={481} style={{ color: GRAY, fontFamily: CJK, fontSize: 15 }}>深圳超赢实时监控</Row>
        <div style={{ position: 'absolute', left: 1575 - R0, top: 475, width: 24, height: 26, border: `1px solid ${RED}`, color: GRAY, fontFamily: CJK, fontSize: 15, lineHeight: '26px', textAlign: 'center' }}>设</div>
        <Row x={1195 - R0} y={502}><Mx t="时间: 2021/08/13" c={RED} /></Row>
        <div style={{ position: 'absolute', left: 0, top: 480, width: 508, height: 240 }}>
          <BarChart width={508} height={240} data={monitorRows} margin={{ top: 45, right: 0, bottom: 0, left: 0 }} barCategoryGap={0}>
            <CartesianGrid vertical={false} stroke={RED} strokeDasharray="1 2" />
            <XAxis dataKey="name" height={30} interval={0} axisLine={{ stroke: YEL }} tickLine={false} tick={(p: any) => <MonitorXTick {...p} />} />
            <YAxis width={101} type="number" domain={[-647.91, 739.3]} ticks={[-647.91, -225.7, 0, 196.51, 618.72]} interval={0} allowDataOverflow
              axisLine={{ stroke: RED, strokeDasharray: '1 2' }} tickLine={false} tick={(p: any) => <RightYTick {...p} />} />
            <ReferenceLine y={0} stroke={RED} />
            <Bar dataKey="v" barSize={29} shape={(p: any) => <MonitorBar {...p} />} isAnimationActive={false}>
              <LabelList dataKey="v" content={(p: any) => <MonitorLabel {...p} />} />
            </Bar>
          </BarChart>
        </div>
        <Row x={1093 - R0} y={691}><Mx t="净额(万元)" c={GRAY} k={15} /></Row>
        <Row x={1093 - R0} y={707}><Mx t="分类" c={GRAY} k={15} /></Row>

        {/* 深市超赢分类统计 */}
        <HLine x1={0} x2={508} y={724} />
        <Row x={1275 - R0} y={730} style={{ color: GRAY, fontFamily: CJK, fontSize: 15 }}>深市超赢分类统计</Row>
        <div style={{ position: 'absolute', left: 1574 - R0, top: 724, width: 25, height: 25, border: `1px solid ${RED}`, color: GRAY, fontFamily: CJK, fontSize: 15, lineHeight: '25px', textAlign: 'center' }}>设</div>
        <Row x={1195 - R0} y={750}><Mx t="时间: 2021/08/13" c={RED} /></Row>
        <div style={{ position: 'absolute', left: 0, top: 724, width: 508, height: 176 }}>
          <BarChart width={508} height={176} data={shareRows} margin={{ top: 36, right: 0, bottom: 0, left: 0 }} barCategoryGap={0}>
            <CartesianGrid vertical={false} stroke={RED} strokeDasharray="1 2" />
            <XAxis dataKey="name" height={45} interval={0} axisLine={{ stroke: RED }} tickLine={false} tick={(p: any) => <ShareXTick {...p} />} />
            <YAxis width={101} type="number" domain={[0, 82.85]} ticks={[0, 25, 50, 75]} interval={0} allowDataOverflow
              axisLine={{ stroke: RED, strokeDasharray: '1 2' }} tickLine={false} tick={(p: any) => <RightYTick {...p} />} />
            <Bar dataKey="v" barSize={30} shape={(p: any) => <ShareBar {...p} />} isAnimationActive={false}>
              <LabelList dataKey="v" content={(p: any) => <ShareLabel {...p} />} />
            </Bar>
          </BarChart>
        </div>
        <Row x={1093 - R0} y={857}><Mx t="比例%" c={GRAY} k={15} /></Row>
        <Row x={1093 - R0} y={875}><Mx t="分类" c={GRAY} k={15} /></Row>
      </div>
    </div>
  );
}
